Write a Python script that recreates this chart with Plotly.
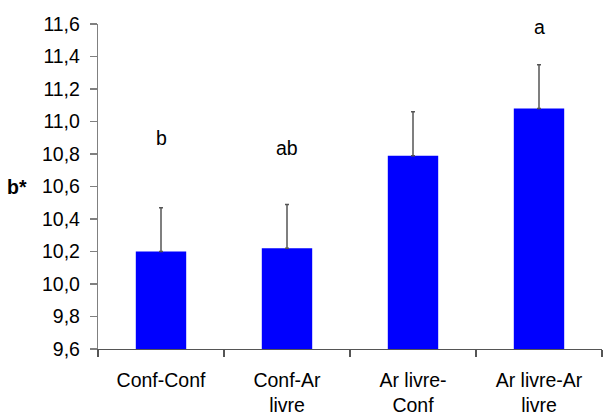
import plotly.graph_objects as go

categories = ["Conf-Conf", "Conf-Ar<br>livre", "Ar livre-<br>Conf", "Ar livre-Ar<br>livre"]
means = [10.20, 10.22, 10.79, 11.08]
errors = [0.27, 0.27, 0.27, 0.27]
letters = ["b", "ab", "", "a"]
letter_y = [10.90, 10.84, None, 11.58]
y_ticks = [9.6, 9.8, 10.0, 10.2, 10.4, 10.6, 10.8, 11.0, 11.2, 11.4, 11.6]
y_tick_labels = [f"{v:.1f}".replace(".", ",") for v in y_ticks]

FONT = "Liberation Sans, Arial, sans-serif"
FS = 19.5

fig = go.Figure()
fig.add_trace(go.Bar(
    x=categories, y=means,
    marker=dict(color="#0000FF", line=dict(width=0)),
    error_y=dict(type="data", array=errors, arrayminus=[0]*len(errors), symmetric=False,
                 color="#555555", thickness=1.5, width=2),
))

for c, t, yy in zip(categories, letters, letter_y):
    if t:
        fig.add_annotation(x=c, y=yy, text=t, showarrow=False, xref="x", yref="y",
                           font=dict(size=FS, color="black", family=FONT))

fig.add_annotation(x=-0.16, y=10.6, xref="paper", yref="y", text="<b>b*</b>", showarrow=False,
                   xanchor="center", yanchor="middle",
                   font=dict(size=FS, color="black", family=FONT))

fig.update_layout(
    width=603, height=414,
    margin=dict(l=98, r=1, t=24, b=65, autoexpand=False),
    paper_bgcolor="white", plot_bgcolor="white",
    bargap=0.6,
    showlegend=False,
    font=dict(family=FONT, size=FS, color="black"),
)
fig.update_xaxes(
    showline=True, linecolor="#555555", linewidth=1.2,
    ticks="outside", tickson="boundaries", ticklen=7, tickcolor="#555555", tickwidth=1.2,
    showgrid=False, zeroline=False,
    tickfont=dict(size=FS, family=FONT, color="black"),
    ticklabelstandoff=13,
)
fig.update_yaxes(
    range=[9.6, 11.6], showline=True, linecolor="#808080", linewidth=1.2,
    ticks="outside", ticklen=7, tickcolor="#808080", tickwidth=1.2,
    tickvals=y_ticks, ticktext=y_tick_labels,
    showgrid=False, zeroline=False,
    tickfont=dict(size=FS, family=FONT, color="black"),
    ticklabelstandoff=6,
)

fig.write_html("out.html", config={"displayModeBar": False, "staticPlot": True},
               post_script="document.body.style.margin='0';document.body.style.padding='0';")
